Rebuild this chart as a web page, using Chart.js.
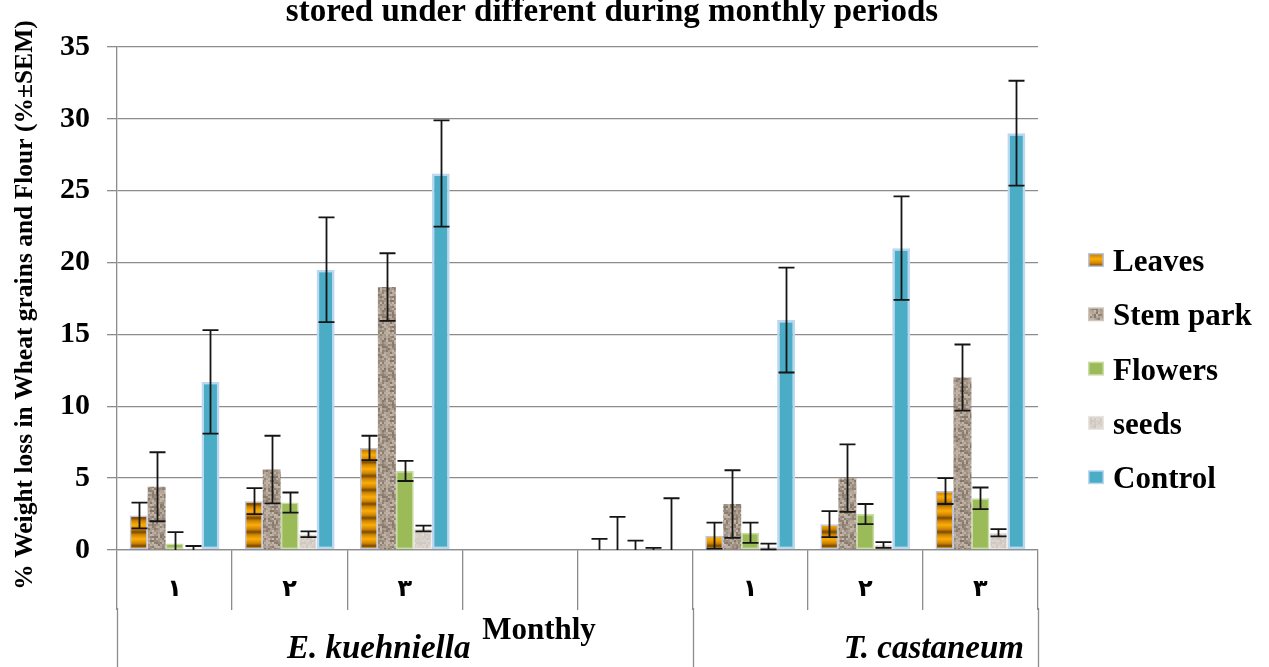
<!DOCTYPE html>
<html><head><meta charset="utf-8">
<script src="https://cdn.jsdelivr.net/npm/chart.js@4.4.1/dist/chart.umd.min.js"></script>
<style>html,body{margin:0;padding:0;background:#fff;overflow:hidden}</style>
</head><body><canvas id="c" width="1269" height="667"></canvas>
<script>
// ---- data ----
const categories = ['١','٢','٣','','','١','٢','٣'];
const seriesNames = ['Leaves','Stem park','Flowers','seeds','Control'];
const leaves     = [2.4, 3.4, 7.1, 0, 0, 1.0, 1.8, 4.1];
const leavesErr  = [0.9, 0.9, 0.85, 0, 0.77, 0.9, 0.9, 0.9];
const stem       = [4.4, 5.6, 18.3, 0, 0, 3.2, 5.0, 12.0];
const stemErr    = [2.4, 2.35, 2.35, 0, 2.3, 2.35, 2.35, 2.3];
const flowers    = [0.45, 3.3, 5.5, 0, 0, 1.2, 2.5, 3.6];
const flowersErr = [0.8, 0.7, 0.7, 0, 0.65, 0.7, 0.7, 0.75];
const seeds      = [0.1, 1.1, 1.5, 0, 0, 0.25, 0.35, 1.2];
const seedsErr   = [0.18, 0.2, 0.2, 0, 0.15, 0.2, 0.2, 0.25];
const control    = [11.7, 19.5, 26.2, 0, 0, 16.0, 21.0, 29.0];
const controlErr = [3.6, 3.65, 3.7, 0, 3.6, 3.65, 3.6, 3.65];
const yTicks = [0, 5, 10, 15, 20, 25, 30, 35];
const groupNames = ['E. kuehniella', 'T. castaneum'];
const titleText = 'stored under different during monthly periods';
const yTitle = '% Weight loss in Wheat grains and Flour (%±SEM)';
const xTitle = 'Monthly';

// ---- textures ----
function hash(x, y, s) {
  let h = Math.imul(x, 374761393) + Math.imul(y, 668265263) + Math.imul(s, 982451653);
  h = Math.imul(h ^ (h >>> 13), 1274126177);
  return ((h ^ (h >>> 16)) >>> 0) / 4294967295;
}
function leavesPattern() {
  const c = document.createElement('canvas'); c.width = 18; c.height = 14;
  const g = c.getContext('2d');
  const gr = g.createLinearGradient(0, 0, 0, 14);
  gr.addColorStop(0, '#7a4800'); gr.addColorStop(0.2, '#cf8600');
  gr.addColorStop(0.5, '#fbad0c'); gr.addColorStop(0.8, '#cf8600'); gr.addColorStop(1, '#7a4800');
  g.fillStyle = gr; g.fillRect(0, 0, 18, 14);
  return g.createPattern(c, 'repeat');
}
function speckle(base, amp, seed) {
  const c = document.createElement('canvas'); c.width = 30; c.height = 30;
  const g = c.getContext('2d');
  for (let x = 0; x < 30; x += 2) for (let y = 0; y < 30; y += 2) {
    const r = hash(x, y, seed);
    const d = Math.round((r - 0.55) * amp);
    g.fillStyle = `rgb(${base[0] + d},${base[1] + d - 2},${base[2] + d - 4})`;
    g.fillRect(x, y, 2, 2);
  }
  return g.createPattern(c, 'repeat');
}
const fills = [leavesPattern(), speckle([168, 156, 144], 70, 7), '#9bbb59', speckle([216, 211, 206], 22, 3), '#4bacc6'];
const borders = ['#b9c4e6', '#cfc6bd', '#cadca6', '#e8e4e0', '#bcd7f0'];
const borderW = [1.5, 0, 1.5, 1, 2.5];
const values = [leaves, stem, flowers, seeds, control];
const errs = [leavesErr, stemErr, flowersErr, seedsErr, controlErr];

const gridColor = '#8c8c8c';
const serif = '"Liberation Serif", "Times New Roman", serif';

const errorBars = {
  id: 'errorBars',
  afterDatasetsDraw(chart) {
    const ctx = chart.ctx, ys = chart.scales.y;
    ctx.save();
    ctx.strokeStyle = '#151515'; ctx.lineWidth = 1.8;
    chart.data.datasets.forEach((ds, i) => {
      const meta = chart.getDatasetMeta(i);
      meta.data.forEach((bar, j) => {
        const e = errs[i][j]; if (!e) return;
        const v = values[i][j];
        const x = Math.round(bar.x) + 0.5;
        const yt = ys.getPixelForValue(v + e);
        const lo = v - e;
        const yb = ys.getPixelForValue(Math.max(0, lo));
        const cw = 8;
        ctx.beginPath();
        ctx.moveTo(x, yt); ctx.lineTo(x, yb);
        ctx.moveTo(x - cw, yt); ctx.lineTo(x + cw, yt);
        if (lo > 0) { ctx.moveTo(x - cw, yb); ctx.lineTo(x + cw, yb); }
        ctx.stroke();
      });
    });
    ctx.restore();
  }
};

const decorations = {
  id: 'decorations',
  afterDraw(chart) {
    const ctx = chart.ctx, ca = chart.chartArea;
    const cw = (ca.right - ca.left) / categories.length;
    ctx.save();
    // long group separators
    ctx.strokeStyle = gridColor; ctx.lineWidth = 1.3;
    [0, 5, 8].forEach(k => {
      const x = Math.round(ca.left + k * cw) + 0.5;
      ctx.beginPath(); ctx.moveTo(x, ca.bottom + 58); ctx.lineTo(x, 667); ctx.stroke();
    });
    ctx.fillStyle = '#000';
    // group labels
    ctx.font = `italic bold 33px ${serif}`;
    ctx.textAlign = 'right'; ctx.textBaseline = 'alphabetic';
    ctx.fillText(groupNames[0], ca.left + 3 * cw + 8, 658);
    ctx.fillText(groupNames[1], ca.left + 8 * cw - 14, 658);
    // x title
    ctx.font = `bold 31px ${serif}`;
    ctx.textAlign = 'center';
    ctx.fillText(xTitle, 539, 639);
    // chart title (cut at the top)
    ctx.font = `bold 33px ${serif}`;
    ctx.fillText(titleText, 612, 21);
    // y title
    ctx.save();
    ctx.translate(32, 305); ctx.rotate(-Math.PI / 2);
    ctx.font = `bold 25.5px ${serif}`;
    ctx.textAlign = 'center';
    ctx.fillText(yTitle, 0, 0);
    ctx.restore();
    // legend
    ctx.font = `bold 31px ${serif}`;
    ctx.textAlign = 'left';
    seriesNames.forEach((n, i) => {
      const cy = 260 + i * 54.3;
      ctx.fillStyle = borders[i];
      ctx.fillRect(1088, cy - 7, 16, 14);
      ctx.fillStyle = fills[i];
      ctx.fillRect(1089.5, cy - 5.5, 13, 11);
      ctx.fillStyle = '#000';
      ctx.fillText(n, 1113, cy + 11);
    });
    ctx.restore();
  }
};

new Chart(document.getElementById('c'), {
  type: 'bar',
  data: {
    labels: categories,
    datasets: seriesNames.map((n, i) => ({
      label: n, data: values[i], backgroundColor: fills[i],
      borderColor: borders[i], borderWidth: borderW[i], borderSkipped: false,
      categoryPercentage: 0.78, barPercentage: 1.0
    }))
  },
  options: {
    responsive: false, animation: false, devicePixelRatio: 1,
    layout: { padding: { top: 47, right: 231, left: 0, bottom: 0 } },
    plugins: { legend: { display: false }, tooltip: { enabled: false }, title: { display: false } },
    scales: {
      x: {
        offset: true,
        grid: { offset: true, drawOnChartArea: false, drawTicks: true, tickLength: 60, color: gridColor, lineWidth: 1.3 },
        border: { display: true, color: gridColor, width: 1.3 },
        ticks: { color: '#000', padding: -35, maxRotation: 0, font: { family: '"DejaVu Sans"', weight: 'bold', size: 24 } },
        afterFit(s) { s.height = 117; }
      },
      y: {
        min: 0, max: 35,
        afterBuildTicks(s) { s.ticks = yTicks.map(v => ({ value: v })); },
        grid: { color: gridColor, lineWidth: 1.3, tickLength: 10 },
        border: { display: true, color: gridColor, width: 1.3 },
        ticks: { color: '#000', padding: 17, font: { family: serif, weight: 'bold', size: 30 } },
        afterFit(s) { s.width = 117; }
      }
    }
  },
  plugins: [errorBars, decorations]
});
</script>
</body></html>
